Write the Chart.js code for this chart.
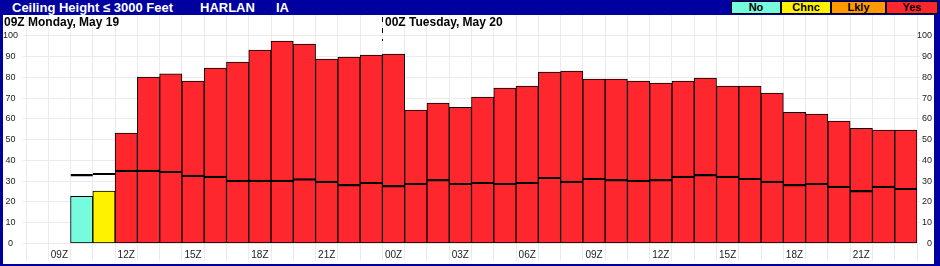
<!DOCTYPE html>
<html>
<head>
<meta charset="utf-8">
<script src="https://cdn.jsdelivr.net/npm/chart.js@4/dist/chart.umd.min.js"></script>
<style>
  body { margin: 0; background: #0000a0; font-family: 'Liberation Sans', Arial, sans-serif; }
  #frame { position: relative; width: 940px; height: 266px; background: #0000a0; overflow: hidden; }
  #plot { position: absolute; left: 3px; top: 15px; width: 931px; height: 249px; background: #fff; }
  .hdr { position: absolute; top: 0px; color: #fff; font-weight: bold; font-size: 13px; line-height: 15px; white-space: pre; }
  .day { position: absolute; top: 15px; color: #000; font-weight: bold; font-size: 12px; line-height: 14px; white-space: pre; }
  .key { position: absolute; top: 1px; height: 11px; border: 1px solid #000; font-weight: bold; font-size: 11px; line-height: 11px; text-align: center; color: #000; }
</style>
</head>
<body>
<div id="frame">
  <div class="hdr" style="left:12px">Ceiling Height ≤ 3000 Feet</div>
  <div class="hdr" style="left:200px">HARLAN</div>
  <div class="hdr" style="left:276px">IA</div>
  <div id="keys"></div>
  <div id="plot"><canvas id="chartCeiling" width="931" height="249"></canvas></div>
  <div class="day" style="left:4px">09Z Monday, May 19</div>
  <div class="day" style="left:385px">00Z Tuesday, May 20</div>
</div>
<script>
  // hourly slots, 08Z May 19 -> 23Z May 20
  const hours = ['08Z','09Z','10Z','11Z','12Z','13Z','14Z','15Z','16Z','17Z','18Z','19Z','20Z','21Z','22Z','23Z',
                 '00Z','01Z','02Z','03Z','04Z','05Z','06Z','07Z','08Z','09Z','10Z','11Z','12Z','13Z','14Z','15Z',
                 '16Z','17Z','18Z','19Z','20Z','21Z','22Z','23Z'];

  // probability (%) of ceiling <= 3000 ft
  const probValues = [null, null, 22.7, 25.2, 53.1, 80.1, 81.7, 78.2, 84.4, 87.3, 93.1, 97.4, 96.0, 88.8, 89.7, 90.7,
                      91.2, 64.2, 67.6, 65.6, 70.5, 74.8, 75.8, 82.5, 83.0, 79.1, 79.1, 78.2, 77.2, 78.2, 79.6, 75.8,
                      75.8, 72.4, 63.2, 62.3, 58.9, 55.5, 54.6, 54.6];

  // the black mark drawn inside each bar
  const markValues = [null, null, 33.3, 33.8, 35.3, 35.3, 34.8, 32.9, 32.4, 30.5, 30.5, 30.5, 31.2, 30.0, 28.5, 29.5,
                      28.0, 29.0, 30.9, 29.0, 29.5, 29.0, 29.5, 31.9, 30.0, 31.4, 30.9, 30.5, 30.9, 32.4, 33.3, 32.4,
                      31.4, 30.0, 28.5, 29.0, 27.6, 25.6, 27.6, 26.6];

  const levels = [null, null, 'No', 'Chnc', 'Yes', 'Yes', 'Yes', 'Yes', 'Yes', 'Yes', 'Yes', 'Yes', 'Yes', 'Yes', 'Yes', 'Yes',
                  'Yes', 'Yes', 'Yes', 'Yes', 'Yes', 'Yes', 'Yes', 'Yes', 'Yes', 'Yes', 'Yes', 'Yes', 'Yes', 'Yes', 'Yes', 'Yes',
                  'Yes', 'Yes', 'Yes', 'Yes', 'Yes', 'Yes', 'Yes', 'Yes'];

  const keyNames = ['No', 'Chnc', 'Lkly', 'Yes'];
  const keyColors = { No: '#76fcdc', Chnc: '#fff200', Lkly: '#ff9a00', Yes: '#fe272d' };
  const keyLeft = [731, 781, 831, 886];
  const keyWidth = [48, 48, 53, 50];

  // header key boxes
  var keysDiv = document.getElementById('keys');
  keyNames.forEach(function (k, i) {
    var d = document.createElement('div');
    d.className = 'key';
    d.style.left = keyLeft[i] + 'px';
    d.style.width = keyWidth[i] + 'px';
    d.style.background = keyColors[k];
    d.textContent = k;
    keysDiv.appendChild(d);
  });

  const gridColor = '#ebebeb';

  // dashed marker at the day change
  const dayMarker = {
    id: 'dayMarker',
    afterDraw(chart) {
      const x = chart.scales.x;
      const px = Math.round((x.getPixelForValue(15) + x.getPixelForValue(16)) / 2) + 0.5;
      const ctx = chart.ctx;
      ctx.save();
      ctx.strokeStyle = '#000';
      ctx.lineWidth = 1;
      ctx.setLineDash([5, 6]);
      ctx.beginPath();
      ctx.moveTo(px, 2);
      ctx.lineTo(px, 26);
      ctx.stroke();
      ctx.restore();
    }
  };

  function noPad(scale) {
    scale.paddingTop = 0;
    scale.paddingBottom = 0;
    scale.paddingLeft = 0;
    scale.paddingRight = 0;
  }

  new Chart(document.getElementById('chartCeiling'), {
    type: 'bar',
    data: {
      labels: hours,
      datasets: [
        {
          label: 'mark',
          data: markValues,
          backgroundColor: 'rgba(0,0,0,0)',
          borderColor: '#000',
          borderWidth: { top: 1.5, left: 0, right: 0, bottom: 0 },
          borderSkipped: false,
          grouped: false,
          categoryPercentage: 1,
          barPercentage: 1,
          order: 0
        },
        {
          label: 'prob',
          data: probValues,
          backgroundColor: levels.map(l => l ? keyColors[l] : 'rgba(0,0,0,0)'),
          borderColor: '#000',
          borderWidth: 1,
          borderSkipped: false,
          grouped: false,
          categoryPercentage: 1,
          barPercentage: 1,
          order: 1
        }
      ]
    },
    options: {
      responsive: false,
      animation: false,
      events: [],
      layout: { padding: { left: 0, right: 2, top: 0, bottom: 0 } },
      plugins: { legend: { display: false }, tooltip: { enabled: false } },
      scales: {
        x: {
          offset: true,
          border: { display: false },
          grid: { color: gridColor, offset: true, tickLength: 17 },
          ticks: {
            autoSkip: false, maxRotation: 0, padding: -11,
            color: '#222', font: { family: "'Liberation Sans', Arial", size: 10 },
            callback: function (v, i) { return i % 3 === 1 ? hours[i] : ''; }
          },
          afterFit: function (s) { s.height = 20.5; noPad(s); }
        },
        y: {
          position: 'left',
          min: 0, max: 110,
          border: { display: false },
          grid: { color: gridColor, tickLength: 3 },
          ticks: {
            stepSize: 10, padding: 5, crossAlign: 'center',
            color: '#222', font: { family: "'Liberation Sans', Arial", size: 9 }
          },
          afterBuildTicks: function (s) { s.ticks = s.ticks.filter(t => t.value <= 100); },
          afterFit: function (s) { s.width = 23; noPad(s); }
        },
        y2: {
          position: 'right',
          min: 0, max: 110,
          border: { display: false },
          grid: { color: gridColor, tickLength: 3, drawOnChartArea: false },
          ticks: {
            stepSize: 10, padding: 2, crossAlign: 'far',
            color: '#222', font: { family: "'Liberation Sans', Arial", size: 9 }
          },
          afterBuildTicks: function (s) { s.ticks = s.ticks.filter(t => t.value <= 100); },
          afterFit: function (s) { s.width = 15; noPad(s); }
        }
      }
    },
    plugins: [dayMarker]
  });
</script>
</body>
</html>
